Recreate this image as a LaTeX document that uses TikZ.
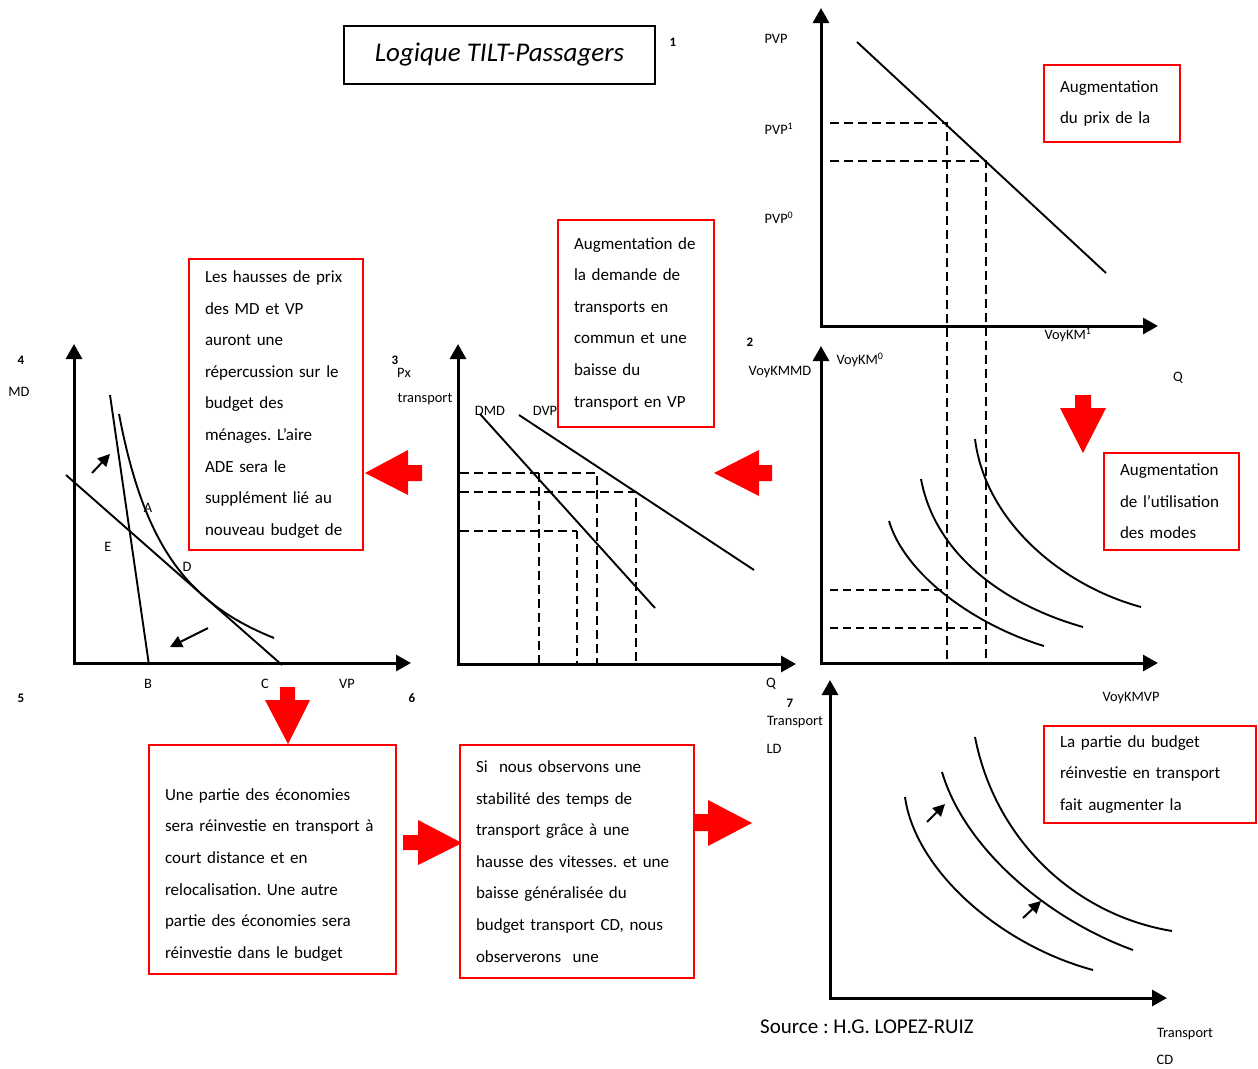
\documentclass[tikz,border=0pt]{standalone}
\usepackage{fontspec}
\setmainfont{Carlito}
\usetikzlibrary{arrows.meta,positioning}
\frenchspacing

\begin{document}
\begin{tikzpicture}[x=1pt,y=-1pt,font=\fontsize{14.4}{16}\selectfont]
\tikzset{
    % axes of the small graphs
    axe/.style={line width=3pt,line join=miter,
           {Triangle[length=15pt,width=16pt]}-{Triangle[length=15pt,width=16pt]}},
    courbe/.style={line width=1.9pt},
    tiret/.style={line width=2.6pt,dash pattern=on 9pt off 5pt},
    tiretfin/.style={line width=1.8pt,dash pattern=on 8pt off 5pt},
    fleche/.style={line width=2pt,-{Triangle[length=12pt,width=12pt]}},
    % red comment boxes
    cadre/.style={
           draw=red, line width=2pt,
           align=left,
           inner xsep=16pt, inner ysep=0pt,
           font=\fontsize{17}{31.6}\selectfont},
    etiq/.style={inner sep=0pt},
    numero/.style={inner sep=0pt,font=\fontsize{13}{15}\selectfont\bfseries},
    bloc/.style={fill=red}
}
	\useasboundingbox (0,0) rectangle (1258,1068);

 %title
	\node[draw,line width=2pt,minimum width=311pt,minimum height=58pt,
	      font=\fontsize{27}{30}\selectfont\itshape] (titre) at (499.5,55) {Logique TILT-Passagers};
	\node[numero] (n1) at (673,42) {1};

 %graph 1 : prix VP
	\coordinate (O1) at (821,326);
	\draw[axe] (821,8) -- (O1) -- (1158,326);
	\draw[courbe] (857,42) -- (1106,273);
	\draw[tiret] (830,123) -- (947,123) -- (947,663);
	\draw[tiret] (830,161) -- (986,161) -- (986,663);
	\node[etiq] (pvp) at (776,39) {PVP};
	\node[etiq] (pvpun) at (779,129) {PVP\textsuperscript{1}};
	\node[etiq] (pvpzero) at (779,218) {PVP\textsuperscript{0}};
	\node[etiq] (voykmun) at (1068,335) {VoyKM\textsuperscript{1}};
	\node[cadre,text width=104pt,minimum height=77pt] (prix) at (1112,103.5)
	     {Augmentation\\du prix de la};

 %graph 2 : VoyKM
	\coordinate (O2) at (821,663);
	\draw[axe] (821,346) -- (O2) -- (1158,663);
	\draw[courbe] (889,521) .. controls (905,575) and (975,625) .. (1044,646);
	\draw[courbe] (921,479) .. controls (935,555) and (1005,605) .. (1083,627);
	\draw[courbe] (975,439) .. controls (985,520) and (1060,585) .. (1141,607);
	\draw[tiretfin] (830,590) -- (947,590);
	\draw[tiretfin] (830,628) -- (986,628);
	\node[numero] (n2) at (750,342) {2};
	\node[etiq] (voykmmd) at (780,372) {VoyKMMD};
	\node[etiq] (voykmzero) at (860,360) {VoyKM\textsuperscript{0}};
	\node[etiq] (q1) at (1178,378) {Q};
	\node[etiq] (voykmvp) at (1131,698) {VoyKMVP};
	\fill[bloc] (1075,395) -- (1091,395) -- (1091,408) -- (1106,408) -- (1083,453)
	      -- (1060,408) -- (1075,408) -- cycle;
	\node[cadre,text width=103pt,minimum height=97pt] (usage) at (1171.5,501.5)
	     {Augmentation\\de l’utilisation\\des modes};

 %graph 3 : demande
	\coordinate (O3) at (458,664);
	\draw[axe] (458,344) -- (O3) -- (796,664);
	\draw[courbe] (480,414) -- (655,608);
	\draw[courbe] (519,415) -- (754,570);
	\draw[tiret] (460,473) -- (597,473) -- (597,664);
	\draw[tiret] (460,492) -- (636,492) -- (636,664);
	\draw[tiret] (460,531) -- (577,531);
	\draw[tiretfin] (577,531) -- (577,664);
	\draw[tiret] (539,473) -- (539,664);
	\node[numero] (n3) at (395,360) {3};
	\node[etiq] (px) at (404,373) {Px};
	\node[etiq] (transp) at (425,399) {transport};
	\node[etiq] (dmd) at (490,411) {DMD};
	\node[etiq] (dvp) at (545,411) {DVP};
	\node[etiq] (q2) at (771,684) {Q};
	\node[cadre,text width=124pt,minimum height=207pt] (demande) at (636,323.5)
	     {Augmentation de\\la demande de\\transports en\\commun et une\\baisse du\\transport en VP};
	\fill[bloc] (714,473) -- (759,450) -- (759,465) -- (772,465) -- (772,481)
	      -- (759,481) -- (759,496) -- cycle;

 %graph 4 : budget
	\coordinate (O4) at (74,663);
	\draw[axe] (74,344) -- (O4) -- (411,663);
	\draw[courbe] (110,395) -- (149,665);
	\draw[courbe] (66,475) -- (282,665);
	\draw[courbe] plot[domain=119:274,samples=60,smooth] (\x,{723.2-182.4/((\x-60)/100)});
	\draw[fleche] (92,473) -- (110,454);
	\draw[fleche] (208,628) -- (170,647);
	\node[numero] (n4) at (21,360) {4};
	\node[etiq] (md) at (19,392) {MD};
	\node[etiq] (ptA) at (148,508) {A};
	\node[etiq] (ptE) at (108,547) {E};
	\node[etiq] (ptD) at (187,567) {D};
	\node[etiq] (ptB) at (148,684) {B};
	\node[etiq] (ptC) at (265,684) {C};
	\node[etiq] (vp) at (347,684) {VP};
	\node[cadre,text width=142pt,minimum height=291pt] (budget) at (276,404.5)
	     {Les hausses de prix\\des MD et VP\\auront une\\répercussion sur le\\budget des\\ménages. L’aire\\ADE sera le\\supplément lié au\\nouveau budget de};
	\fill[bloc] (365,473) -- (408,450) -- (408,465) -- (422,465) -- (422,481)
	      -- (408,481) -- (408,495) -- cycle;

 %bottom boxes
	\node[numero] (n5) at (21,698) {5};
	\node[numero] (n6) at (412,698) {6};
	\fill[bloc] (280,687) -- (295,687) -- (295,700) -- (310,700) -- (288,744)
	      -- (265,700) -- (280,700) -- cycle;
	\node[cadre,text width=215pt,minimum height=229pt] (economies) at (272.5,859.5)
	     {\vphantom{Une}\\Une partie des économies\\sera réinvestie en transport à\\court distance et en\\relocalisation. Une autre\\partie des économies sera\\réinvestie dans le budget};
	\fill[bloc] (403,835) -- (418,835) -- (418,820) -- (462,843) -- (418,865)
	      -- (418,850) -- (403,850) -- cycle;
	\node[cadre,text width=202pt,minimum height=233pt] (vitesses) at (577,861.5)
	     {Si\ \ nous observons une\\stabilité des temps de\\transport grâce à une\\hausse des vitesses. et une\\baisse généralisée du\\budget transport CD, nous\\observerons\ \ une};
	\fill[bloc] (695,814) -- (708,814) -- (708,800) -- (752,823) -- (708,846)
	      -- (708,831) -- (695,831) -- cycle;

 %graph 7 : transport LD / CD
	\coordinate (O7) at (830,998);
	\draw[axe] (830,680) -- (O7) -- (1167,998);
	\draw[courbe] (905,797) .. controls (915,870) and (1000,945) .. (1093,970);
	\draw[courbe] (942,772) .. controls (965,850) and (1050,920) .. (1133,950);
	\draw[courbe] (975,737) .. controls (995,840) and (1075,915) .. (1172,931);
	\draw[fleche] (927,822) -- (945,804);
	\draw[fleche] (1023,918) -- (1041,901);
	\node[numero] (n7) at (790,703) {7};
	\node[etiq] (transpld) at (795,722) {Transport};
	\node[etiq] (ld) at (774,749) {LD};
	\node[etiq] (transpcd) at (1185,1034) {Transport};
	\node[etiq] (cd) at (1165,1060) {CD};
	\node[cadre,text width=180pt,minimum height=97pt] (reinvest) at (1150,774.5)
	     {La partie du budget\\réinvestie en transport\\fait augmenter la};
	\node[etiq,font=\fontsize{21}{24}\selectfont] (source) at (867,1027) {Source : H.G. LOPEZ-RUIZ};

\end{tikzpicture}
\end{document}
